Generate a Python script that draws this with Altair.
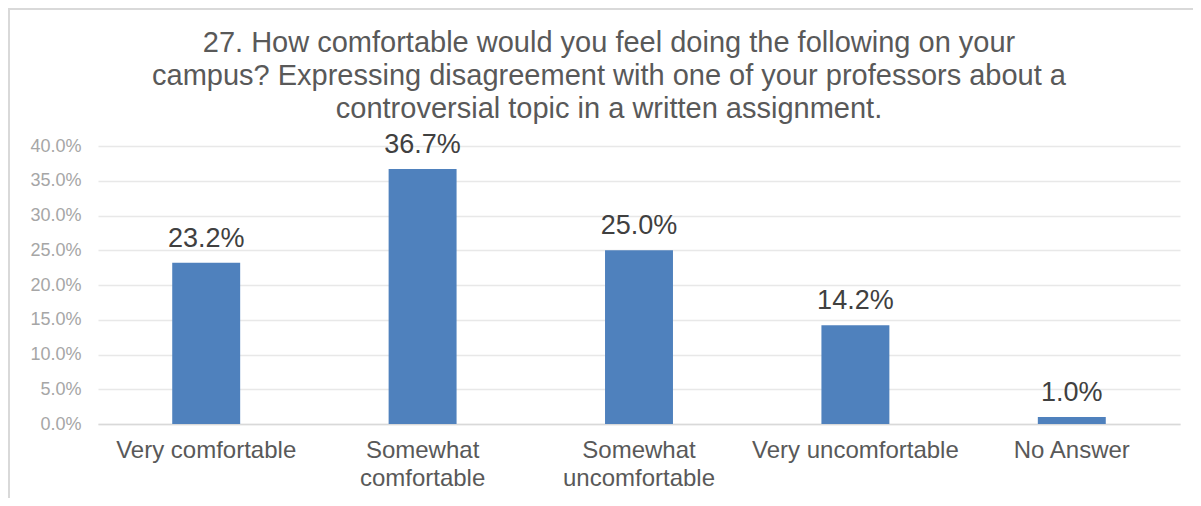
import altair as alt
import pandas as pd

categories = ["Very comfortable", "Somewhat comfortable", "Somewhat uncomfortable",
              "Very uncomfortable", "No Answer"]
values = [0.232, 0.367, 0.250, 0.142, 0.010]
y_ticks = [0.0, 0.05, 0.10, 0.15, 0.20, 0.25, 0.30, 0.35, 0.40]
title_lines = [
    "27. How comfortable would you feel doing the following on your",
    "campus? Expressing disagreement with one of your professors about a",
    "controversial topic in a written assignment.",
]

df = pd.DataFrame({"category": categories, "value": values})

FONT = "Liberation Sans"

x = alt.X("category:N", sort=categories, title=None,
          scale=alt.Scale(paddingInner=0.686, paddingOuter=0.343),
          axis=alt.Axis(labelAngle=0, labelFont=FONT, labelFontSize=24, labelColor="#595959",
                        labelPadding=14, labelLineHeight=28, ticks=False, grid=False,
                        labelLimit=400, domainColor="#d9d9d9", domainWidth=1.5,
                        labelExpr="indexof(datum.label, 'Somewhat') == 0 ? split(datum.label, ' ') : datum.label"))
y = alt.Y("value:Q", title=None,
          scale=alt.Scale(domain=[0, 0.4], nice=False),
          axis=alt.Axis(format=".1%", values=y_ticks, labelOverlap=False, grid=True,
                        labelFont=FONT, labelFontSize=18, labelColor="#a6a6a6",
                        labelPadding=17, ticks=False, domain=False,
                        gridColor="#e8e8e8", gridWidth=1.5))

bars = alt.Chart(df).mark_bar(color="#4F81BD").encode(x=x, y=y)
labels = alt.Chart(df).mark_text(font=FONT, fontSize=27, color="#404040",
                                 baseline="alphabetic", dy=-16).encode(
    x=x,
    y=y,
    text=alt.Text("value:Q", format=".1%"),
)
border = alt.Chart(pd.DataFrame({"a": [0]})).mark_rect(
    fill=None, stroke="#d9d9d9", strokeWidth=2, clip=False).encode(
    x=alt.value(-89), x2=alt.value(1200), y=alt.value(-137), y2=alt.value(1000))

chart = alt.layer(border, bars, labels).properties(
    width=1082, height=278,
    autosize=alt.AutoSizeParams(type="none"),
    padding={"left": 90, "top": 138, "right": 13, "bottom": 74},
    title=alt.TitleParams(title_lines, font=FONT, fontSize=29, color="#595959",
                          fontWeight="normal", anchor="middle", frame="group",
                          dx=-30, lineHeight=33, baseline="bottom", offset=-145),
).configure_view(stroke=None)

chart.save("out.html", embed_options={"renderer": "svg", "actions": False})
